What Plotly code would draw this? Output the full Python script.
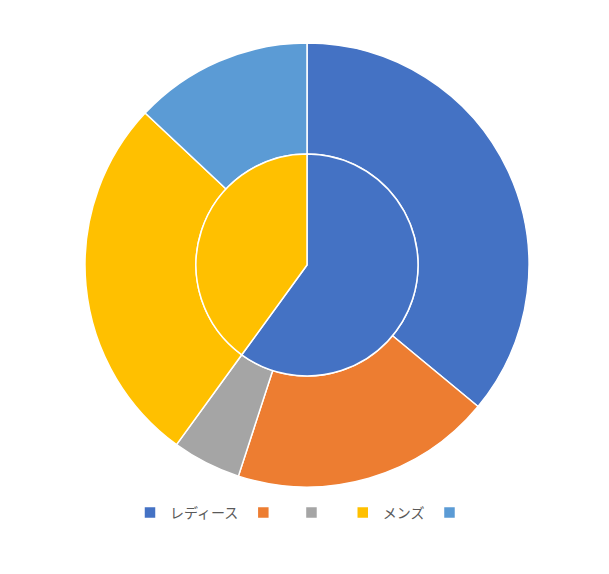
import plotly.graph_objects as go

outer_labels = ["レディース", " ", "  ", "メンズ", "   "]
outer_values = [36, 19, 5, 27, 13]
outer_colors = ["#4472C4", "#ED7D31", "#A5A5A5", "#FFC000", "#5B9BD5"]

inner_labels = ["レディース", "メンズ"]
inner_values = [60, 40]
inner_colors = ["#4472C4", "#FFC000"]

fig = go.Figure()
fig.add_trace(go.Pie(
    labels=outer_labels, values=outer_values, hole=0.5, sort=False,
    direction="clockwise", rotation=0, textinfo="none", hoverinfo="label+value",
    marker=dict(colors=outer_colors, line=dict(color="white", width=1.5)),
    domain=dict(x=[0, 1], y=[0, 1]), showlegend=True,
))
fig.add_trace(go.Pie(
    labels=inner_labels, values=inner_values, sort=False,
    direction="clockwise", rotation=0, textinfo="none", hoverinfo="label+value",
    marker=dict(colors=inner_colors, line=dict(color="white", width=1.5)),
    domain=dict(x=[0.25, 0.75], y=[0.25, 0.75]), showlegend=False,
))
fig.update_layout(
    width=609, height=574,
    margin=dict(l=77, r=88, t=35, b=95),
    paper_bgcolor="white", plot_bgcolor="white",
    font=dict(family="Noto Sans CJK JP, sans-serif", size=14, color="#595959"),
    legend=dict(orientation="h", x=0.5, xanchor="center", y=-0.0586, yanchor="middle",
                font=dict(size=14, color="#595959"), itemwidth=30, tracegroupgap=0),
)
fig.write_html("out.html")
